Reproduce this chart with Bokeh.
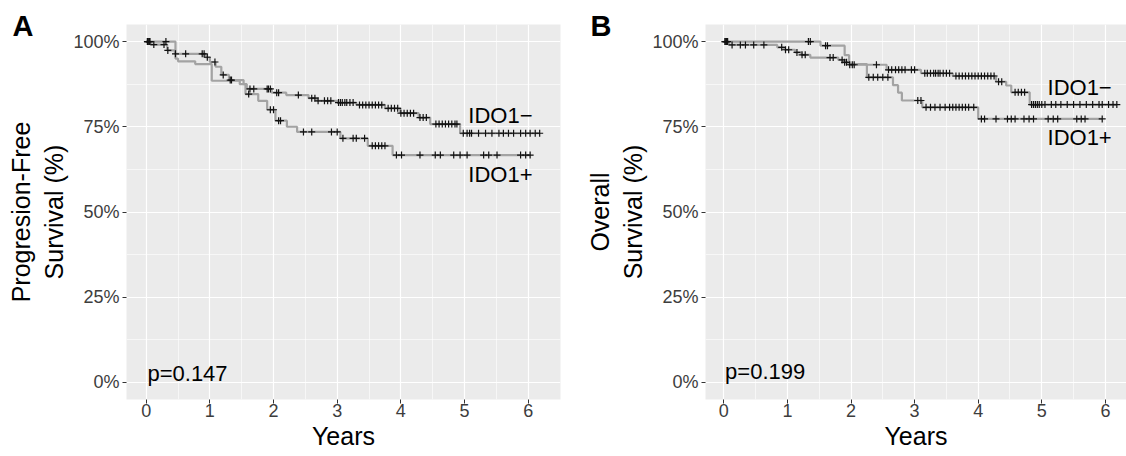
import numpy as np
from bokeh.plotting import figure
from bokeh.layouts import row
from bokeh.models import Range1d, FixedTicker, NumeralTickFormatter
from bokeh.core.properties import value
from bokeh.embed import file_html
from bokeh.resources import INLINE

FONT = "Liberation Sans"

# ---------------- Panel A: progression-free survival ----------------
pfs_neg_event_t = [0.07, 0.33, 0.45, 0.93, 1.00, 1.09, 1.18, 1.30, 1.53, 1.58, 1.97, 2.20,
                   2.55, 2.68, 3.00, 3.30, 3.75, 3.99, 4.28, 4.46, 4.93]
pfs_neg_event_s = [0.991, 0.974, 0.964, 0.954, 0.940, 0.926, 0.902, 0.887, 0.875, 0.861, 0.850,
                   0.843, 0.834, 0.826, 0.821, 0.814, 0.804, 0.790, 0.777, 0.758, 0.731]
pfs_neg_cens_t = [0.02, 0.04, 0.06, 0.12, 0.28, 0.34, 0.46, 0.62, 0.88, 0.91, 0.96, 1.08, 1.21,
                  1.32, 1.34, 1.63, 1.69, 1.90, 1.92, 1.95, 2.05, 2.08, 2.39, 2.60, 2.65, 2.70,
                  2.80, 2.85, 2.90, 3.02, 3.05, 3.08, 3.12, 3.15, 3.20, 3.25, 3.35, 3.40, 3.45,
                  3.50, 3.55, 3.60, 3.65, 3.70, 3.80, 3.85, 3.90, 3.95, 4.00, 4.05, 4.10, 4.15,
                  4.20, 4.30, 4.35, 4.40, 4.55, 4.60, 4.65, 4.70, 4.75, 4.80, 4.85, 4.88, 4.98,
                  5.04, 5.08, 5.11, 5.22, 5.33, 5.43, 5.54, 5.61, 5.69, 5.77, 5.88, 5.96, 6.03,
                  6.11, 6.18]

pfs_pos_event_t = [0.46, 0.50, 0.77, 1.03, 1.47, 1.56, 1.76, 1.90, 2.03, 2.21, 2.37, 3.05, 3.48, 3.87]
pfs_pos_event_s = [0.950, 0.942, 0.934, 0.885, 0.875, 0.846, 0.826, 0.800, 0.768, 0.750, 0.735,
                   0.716, 0.694, 0.667]
pfs_pos_cens_t = [0.02, 0.05, 0.31, 1.61, 1.95, 2.00, 2.08, 2.11, 2.47, 2.60, 2.91, 3.00, 3.09,
                  3.25, 3.30, 3.43, 3.55, 3.60, 3.65, 3.70, 3.75, 3.93, 4.01, 4.30, 4.54, 4.62,
                  4.83, 4.93, 5.04, 5.30, 5.38, 5.51, 5.88, 5.96, 6.03]

# ---------------- Panel B: overall survival ----------------
os_neg_event_t = [0.08, 0.84, 0.95, 1.12, 1.22, 1.36, 1.80, 1.88, 1.96, 2.56, 3.10, 3.60, 4.28,
                  4.44, 4.52, 4.81]
os_neg_event_s = [0.990, 0.983, 0.976, 0.968, 0.961, 0.953, 0.946, 0.939, 0.932, 0.917, 0.907,
                  0.899, 0.882, 0.871, 0.851, 0.815]
os_neg_cens_t = [0.02, 0.04, 0.06, 0.13, 0.26, 0.34, 0.47, 0.63, 0.91, 0.97, 1.02, 1.15, 1.23,
                 1.28, 1.67, 1.72, 1.86, 1.90, 1.93, 1.98, 2.02, 2.05, 2.40, 2.59, 2.64, 2.70,
                 2.75, 2.80, 2.85, 2.95, 3.00, 3.16, 3.20, 3.25, 3.30, 3.33, 3.37, 3.40, 3.45,
                 3.50, 3.55, 3.65, 3.70, 3.75, 3.80, 3.85, 3.90, 3.95, 4.00, 4.05, 4.10, 4.15,
                 4.20, 4.25, 4.32, 4.37, 4.58, 4.63, 4.68, 4.73, 4.84, 4.87, 4.90, 4.93, 4.96,
                 5.00, 5.05, 5.15, 5.22, 5.30, 5.40, 5.50, 5.60, 5.70, 5.80, 5.90, 5.95, 6.05,
                 6.12, 6.18]

os_pos_event_t = [1.52, 1.90, 1.97, 2.25, 2.66, 2.74, 2.80, 3.12, 4.00]
os_pos_event_s = [0.988, 0.960, 0.934, 0.895, 0.872, 0.850, 0.827, 0.807, 0.773]
os_pos_cens_t = [0.02, 0.04, 1.33, 1.36, 1.60, 1.63, 2.28, 2.35, 2.42, 2.50, 2.58, 3.05, 3.10,
                 3.18, 3.25, 3.32, 3.40, 3.48, 3.55, 3.60, 3.65, 3.70, 3.75, 3.80, 3.85, 3.93,
                 4.05, 4.10, 4.28, 4.46, 4.52, 4.58, 4.72, 4.80, 4.87, 5.10, 5.18, 5.25, 5.55,
                 5.62, 5.68, 5.95]

group_labels = ["IDO1\u2212", "IDO1+"]
p_values = ["p=0.147", "p=0.199"]
panel_letters = ["A", "B"]
y_titles = ["Progresion-Free\nSurvival (%)", "Overall\nSurvival (%)"]
x_title = "Years"
x_ticks = [0, 1, 2, 3, 4, 5, 6]
y_ticks = [0, 0.25, 0.5, 0.75, 1.0]

LINE_COLOR = "#a3a3a3"
BG = "#EBEBEB"


def km_path(event_t, event_s, end_t):
    xs = [0.0] + list(event_t) + [end_t]
    ys = [1.0] + list(event_s) + [event_s[-1]]
    return xs, ys


def surv_at(times, event_t, event_s):
    idx = np.searchsorted(np.array(event_t), np.array(times), side="right")
    s = np.concatenate([[1.0], np.array(event_s)])
    return s[idx]


def make_panel(width, border_left, border_right, x_start, x_end, curves, y_title,
               label_x, label_ys, pval_y, pval, letter, letter_offset):
    p = figure(width=width, height=456, x_range=Range1d(x_start, x_end),
               y_range=Range1d(-0.05, 1.05), output_backend="svg", toolbar_location=None,
               min_border_left=border_left, min_border_right=border_right,
               min_border_top=24, min_border_bottom=57)
    p.background_fill_color = BG
    p.outline_line_color = None
    p.border_fill_color = "white"

    # panel letter as a title pulled down next to the panel's top-left corner
    p.title.text = letter
    p.title.text_font = FONT
    p.title.text_font_size = "29px"
    p.title.text_font_style = "bold"
    p.title.text_color = "black"
    p.title.align = "left"
    p.title.offset = letter_offset
    p.title.standoff = -34

    p.xaxis.ticker = FixedTicker(ticks=x_ticks, minor_ticks=[0.5, 1.5, 2.5, 3.5, 4.5, 5.5])
    p.yaxis.ticker = FixedTicker(ticks=y_ticks, minor_ticks=[0.125, 0.375, 0.625, 0.875])
    p.yaxis.formatter = NumeralTickFormatter(format="0%")
    for ax in (p.xaxis, p.yaxis):
        ax.axis_line_color = None
        ax.major_tick_line_color = "#333333"
        ax.major_tick_line_width = 1
        ax.major_tick_out = 4
        ax.major_tick_in = 0
        ax.minor_tick_line_color = None
        ax.major_label_text_font = FONT
        ax.major_label_text_font_size = "18px"
        ax.major_label_text_color = "#3d3d3d"
        ax.axis_label_text_font = FONT
        ax.axis_label_text_font_size = "25px"
        ax.axis_label_text_font_style = "normal"
        ax.axis_label_text_color = "black"
        ax.axis_label_standoff = 2
    p.xaxis.major_label_standoff = 0
    p.yaxis.major_label_standoff = 3
    p.xaxis.axis_label = x_title
    p.yaxis.axis_label = y_title

    for g in (p.xgrid, p.ygrid):
        g.grid_line_color = "white"
        g.grid_line_width = 1.2
        g.minor_grid_line_color = "white"
        g.minor_grid_line_width = 0.6

    for event_t, event_s, cens_t in curves:
        end_t = max(cens_t[-1], event_t[-1])
        xs, ys = km_path(event_t, event_s, end_t)
        p.step(xs, ys, mode="after", line_color=LINE_COLOR, line_width=2.2)
    for event_t, event_s, cens_t in curves:
        cy = surv_at(cens_t, event_t, event_s)
        p.scatter(cens_t, cy, marker="cross", size=7, line_color="#111111", line_width=1.2)

    p.text(x=[label_x, label_x], y=label_ys, text=group_labels, text_font=value(FONT),
           text_font_size="22px", text_color="black", text_baseline="bottom",
           text_align="left")
    p.text(x=[0.02], y=[pval_y], text=[pval], text_font=value(FONT), text_font_size="22px",
           text_color="black", text_baseline="bottom", text_align="left")
    return p


pA = make_panel(580, 126, 20, -0.309, 6.507,
                [(pfs_neg_event_t, pfs_neg_event_s, pfs_neg_cens_t),
                 (pfs_pos_event_t, pfs_pos_event_s, pfs_pos_cens_t)],
                y_titles[0], 5.06, [0.746, 0.573], -0.011, p_values[0], panel_letters[0], -114)
pB = make_panel(546, 125, 0, -0.288, 6.332,
                [(os_neg_event_t, os_neg_event_s, os_neg_cens_t),
                 (os_pos_event_t, os_pos_event_s, os_pos_cens_t)],
                y_titles[1], 5.09, [0.828, 0.681], -0.005, p_values[1], panel_letters[1], -115)

layout = row(pA, pB)
open("out.html", "w").write(file_html(layout, INLINE))
